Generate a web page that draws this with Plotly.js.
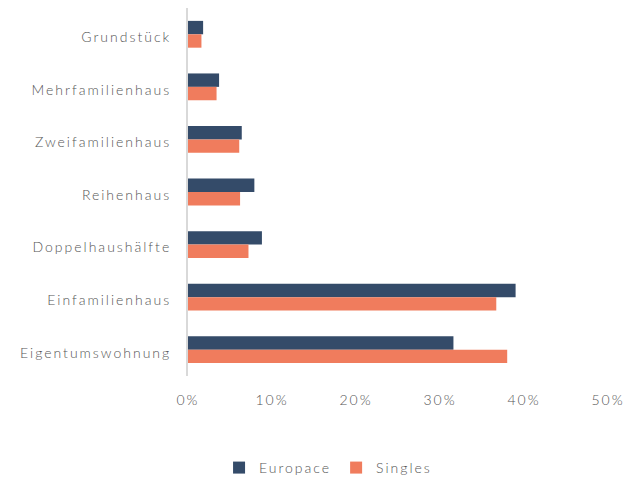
<!DOCTYPE html>
<html>
<head>
<meta charset="utf-8">
<script src="https://cdn.plot.ly/plotly-3.0.1.min.js"></script>
<style>
html,body{margin:0;padding:0;background:#fff;}
svg text{letter-spacing:2px;}
</style>
</head>
<body>
<div id="chart" style="width:637px;height:479px;"></div>
<script>
const categories = ["Grundstück","Mehrfamilienhaus","Zweifamilienhaus","Reihenhaus","Doppelhaushälfte","Einfamilienhaus","Eigentumswohnung"];
const europace = [1.8, 3.7, 6.4, 7.9, 8.8, 39.0, 31.6];
const singles = [1.6, 3.4, 6.1, 6.2, 7.2, 36.7, 38.0];
const xTicks = [0, 10, 20, 30, 40, 50];
const xTickLabels = ["0%", "10%", "20%", "30%", "40%", "50%"];

const font = {family: "Lato, 'Open Sans', sans-serif", size: 14, color: "#555555", weight: 300};

const traces = [
  {type: "bar", orientation: "h", name: "Europace", y: categories, x: europace,
   marker: {color: "#344b69"}, hoverinfo: "x+y"},
  {type: "bar", orientation: "h", name: "Singles", y: categories, x: singles,
   marker: {color: "#f07c5d"}, hoverinfo: "x+y"}
];

const layout = {
  width: 637, height: 479,
  margin: {l: 188, r: 29, t: 8, b: 103},
  paper_bgcolor: "#fff", plot_bgcolor: "#fff",
  font: font,
  barmode: "group",
  bargap: 0.49,
  bargroupgap: 0,
  showlegend: true,
  legend: {orientation: "h", xref: "container", yref: "container", x: 0.515, y: 0.023,
           xanchor: "center", yanchor: "middle", font: font, traceorder: "normal",
           itemwidth: 30},
  xaxis: {range: [0, 50], tickmode: "array", tickvals: xTicks, ticktext: xTickLabels,
          showgrid: false, zeroline: false, showline: false, ticks: "", tickfont: font,
          ticklabelstandoff: 14},
  yaxis: {autorange: "reversed", showline: true, linecolor: "#d9d9d9", linewidth: 2,
          ticks: "", showgrid: false, tickfont: font, ticklabelstandoff: 12,
          ticklabelshift: -3}
};

Plotly.newPlot("chart", traces, layout, {displayModeBar: false, staticPlot: true});
</script>
</body>
</html>
